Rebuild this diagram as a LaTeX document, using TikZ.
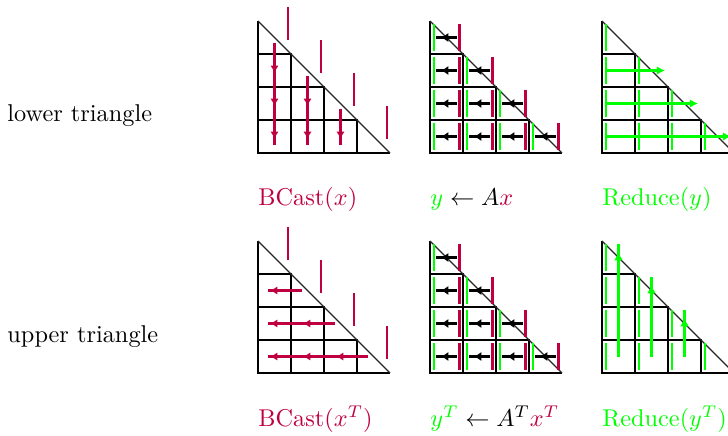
\documentclass[tikz,border=0pt]{standalone}
\usetikzlibrary{arrows.meta}
\definecolor{bred}{rgb}{0.75,0,0.25}
\definecolor{bgreen}{rgb}{0,1,0}
\tikzset{
  gridln/.style={line width=0.8pt},
  diagln/.style={line width=0.45pt, draw=black!85},
  rbar/.style={draw=bred, line width=1.2pt},
  gbar/.style={draw=bgreen, line width=1.2pt},
  rarr/.style={draw=bred, line width=1.2pt},
  garr/.style={draw=bgreen, line width=1.2pt},
  karr/.style={draw=black, line width=1.6pt},
  rhead/.style={rarr, -{Latex[length=3pt,width=3.4pt]}},
  ghead/.style={garr, -{Latex[length=3.4pt,width=3.6pt]}},
  khead/.style={karr, -{Latex[length=3pt,width=3.8pt]}},
  lbl/.style={anchor=base west, inner sep=0pt},
}
\newcommand\TriGrid[2]{%
  \draw[gridln] (#1,#2) -- (#1,#2+132) -- (#1+132,#2+132);
  \foreach \k in {1,2,3}{\draw[gridln] (#1,#2+33*\k) -- (#1+33*\k,#2+33*\k) -- (#1+33*\k,#2+132);}
  \draw[diagln] (#1,#2) -- (#1+132,#2+132);
}
\newcommand\XBars[2]{%
  \foreach \k in {1,...,4}{\draw[rbar] (#1+33*\k-3,#2+33*\k-47) -- (#1+33*\k-3,#2+33*\k-14);}
}
\newcommand\MatVec[2]{%
  \foreach \j in {1,...,4}{\foreach \i in {1,...,\j}{
    \pgfmathsetmacro\mycl{#1+33*(\i-1)}
    \pgfmathsetmacro\myct{#2+33*(\j-1)}
    \draw[gbar] (\mycl+4,\myct+3) -- (\mycl+4,\myct+30);
    \draw[rbar] (\mycl+29.5,\myct+3) -- (\mycl+29.5,\myct+30);
    \draw[karr] (\mycl+27,\myct+16.5) -- (\mycl+6,\myct+16.5);
    \draw[khead] (\mycl+21,\myct+16.5) -- (\mycl+11,\myct+16.5);
  }}%
}
\newcommand\YBars[2]{%
  \foreach \j in {1,...,4}{\foreach \i in {1,...,\j}{
    \draw[gbar] (#1+33*\i-29,#2+33*\j-30) -- (#1+33*\i-29,#2+33*\j-3);
  }}%
}
\begin{document}
\begin{tikzpicture}[x=0.4115pt, y=-0.4115pt]
\useasboundingbox (0,0) rectangle (728,436);

% side labels
\node[lbl] (lowerlbl) at (7,122) {lower triangle};
\node[lbl] (upperlbl) at (7,342) {upper triangle};

% ---------- panel 1: BCast(x), lower ----------
\TriGrid{258}{21}
\XBars{258}{21}
\foreach \k in {1,2,3}{
  \draw[rarr] (258+33*\k-16.5,21+33*\k-11) -- (258+33*\k-16.5,145);
  \foreach \j in {\k,...,3}{
    \draw[rhead] (258+33*\k-16.5,21+33*\j+8) -- (258+33*\k-16.5,21+33*\j+19);
  }
}

% ---------- panel 2: y <- Ax, lower ----------
\TriGrid{430}{21}
\MatVec{430}{21}

% ---------- panel 3: Reduce(y), lower ----------
\TriGrid{602}{21}
\YBars{602}{21}
\foreach \j in {2,3,4}{
  \draw[ghead] (606,21+33*\j-16.5) -- (602+33*\j-3,21+33*\j-16.5);
}

% ---------- panel 4: BCast(x^T), upper ----------
\TriGrid{258}{241}
\XBars{258}{241}
\foreach \j in {2,3,4}{
  \draw[rarr] (258+33*\j-22,241+33*\j-16.5) -- (268,241+33*\j-16.5);
  \foreach \i in {2,...,\j}{
    \draw[rhead] (258+33*\i-42,241+33*\j-16.5) -- (258+33*\i-54,241+33*\j-16.5);
  }
}

% ---------- panel 5: y^T <- A^T x^T, upper ----------
\TriGrid{430}{241}
\MatVec{430}{241}

% ---------- panel 6: Reduce(y^T), upper ----------
\TriGrid{602}{241}
\YBars{602}{241}
\foreach \i in {1,2,3}{
  \draw[garr] (602+33*\i-16.5,357) -- (602+33*\i-16.5,241+33*\i-30);
  \draw[ghead] (602+33*\i-16.5,241+33*\i-10) -- (602+33*\i-16.5,241+33*\i-22);
}

% ---------- operation labels ----------
\node[lbl, text=bred] (op1) at (258,206) {BCast$(x)$};
\node[lbl] (op2) at (430,206) {$\textcolor{bgreen}{y}\leftarrow A\textcolor{bred}{x}$};
\node[lbl, text=bgreen] (op3) at (602,206) {Reduce$(y)$};
\node[lbl, text=bred] (op4) at (258,426) {BCast$(x^T)$};
\node[lbl] (op5) at (430,426) {$\textcolor{bgreen}{y^T}\leftarrow A^T\textcolor{bred}{x^T}$};
\node[lbl, text=bgreen] (op6) at (602,426) {Reduce$(y^T)$};
\end{tikzpicture}
\end{document}
